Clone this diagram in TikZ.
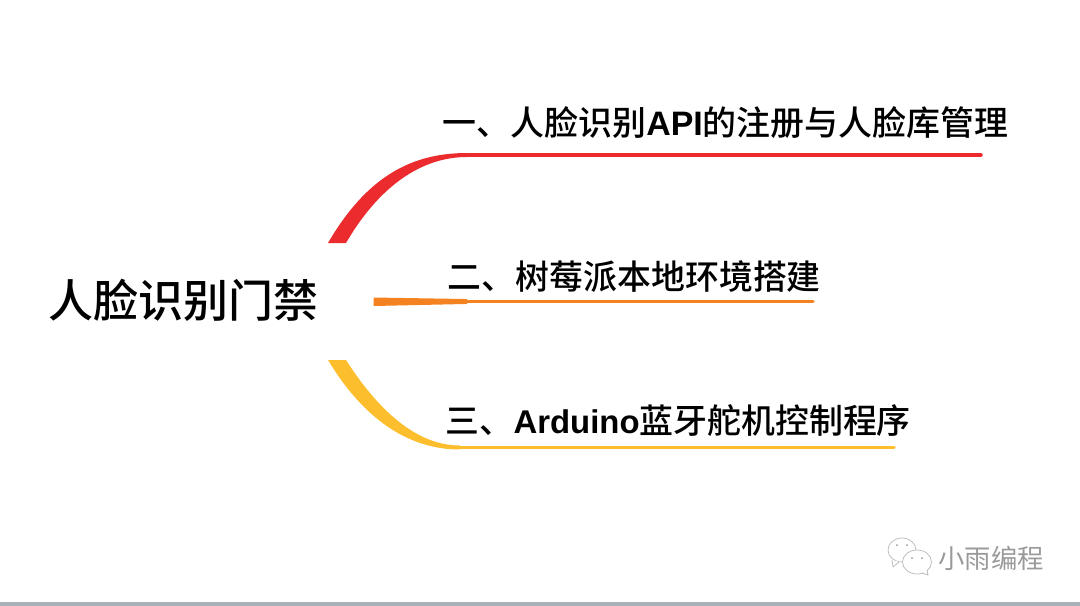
\documentclass[tikz,border=0pt]{standalone}
\usepackage{fontspec}
\setmainfont{Noto Sans CJK SC}
\newfontfamily\medfont{Noto Sans CJK SC Medium}
\newfontfamily\latinfont{Liberation Sans}[BoldFont=Liberation Sans Bold]
\definecolor{branchred}{HTML}{EC2B2F}
\definecolor{branchorange}{HTML}{F58220}
\definecolor{branchyellow}{HTML}{FDBE2D}
\definecolor{markgray}{HTML}{9A9A9A}
\definecolor{bargray}{HTML}{AAB1B6}
\tikzset{
  rootlabel/.style={inner sep=0pt,font=\fontsize{25.6pt}{30pt}\medfont},
  itemlabel/.style={inner sep=0pt,anchor=west,font=\fontsize{19.3pt}{23pt}\medfont},
  marklabel/.style={inner sep=0pt,anchor=west,text=markgray,font=\fontsize{15pt}{18pt}\selectfont},
  bubble/.style={draw=markgray!70,fill=white,line width=0.4pt},
  branchline/.style={line width=2pt,line cap=round},
}
\begin{document}
\begin{tikzpicture}[x=0.02cm,y=-0.02cm]
		\useasboundingbox (0,0) rectangle (1080,606);
		\fill[bargray] (0,602) rectangle (1080,606);
		% labels
		\node[rootlabel] (root) at (183.5,300) {人脸识别门禁};
		\node[itemlabel] (itemA) at (442.5,123) {一、人脸识别{\latinfont\bfseries API}的注册与人脸库管理};
		\node[itemlabel] (itemB) at (447.5,277) {二、树莓派本地环境搭建};
		\node[itemlabel] (itemC) at (445.5,421) {三、{\latinfont\bfseries\fontsize{18.7pt}{23pt}\selectfont Arduino}蓝牙舵机控制程序};
		% branches
		\coordinate (redL) at (328,243);
		\coordinate (redR) at (346,243);
		\coordinate (redT) at (467,153);
		\coordinate (redB) at (467,157);
		\coordinate (redE) at (981,155);
		\fill[branchred] (redL) .. controls (366,178) and (410,153) .. (redT) -- (redB) .. controls (420,157) and (378,188) .. (redR) -- cycle;
		\draw[branchred,branchline] (redT|-redE) -- (redE);
		\coordinate (orangeT) at (373.5,297.5);
		\coordinate (orangeB) at (373.5,306);
		\coordinate (orangeR) at (467,301.5);
		\coordinate (orangeE) at (813,301.5);
		\fill[branchorange] (orangeT) -- ([yshift=1.4pt]orangeR) -- ([yshift=-1.4pt]orangeR) -- (orangeB) -- cycle;
		\draw[branchorange,branchline] (orangeR) -- (orangeE);
		\coordinate (yellowL) at (328,360);
		\coordinate (yellowR) at (346,360);
		\coordinate (yellowT) at (460,445.5);
		\coordinate (yellowB) at (460,449.5);
		\coordinate (yellowE) at (894,447.5);
		\fill[branchyellow] (yellowL) .. controls (366,423) and (412,449.5) .. (yellowB) -- (yellowT) .. controls (420,445.5) and (382,416) .. (yellowR) -- cycle;
		\draw[branchyellow,branchline] (yellowT|-yellowE) -- (yellowE);
		% watermark
		\draw[bubble] (902,550) ellipse (14 and 12);
		\draw[bubble] (892,560) -- (893,567) -- (899,562);
		\draw[bubble] (917,562) ellipse (14.5 and 12);
		\fill[bubble,draw=none] (922,571) -- (926,574) -- (927,568) -- cycle;
		\draw[bubble] (922,573) -- (928,575) -- (927,570);
		\foreach \px/\py in {897/545,907/545,912/558,922/558}
			\fill[markgray] (\px,\py) circle (1);
		\node[marklabel] (mark) at (938,558) {小雨编程};
\end{tikzpicture}
\end{document}
